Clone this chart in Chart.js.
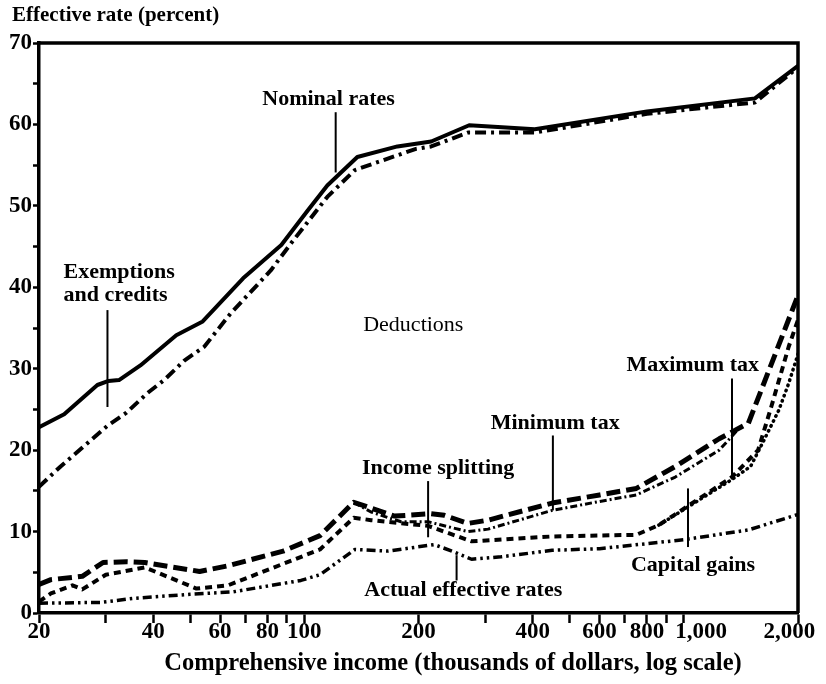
<!DOCTYPE html>
<html><head><meta charset="utf-8">
<script src="https://cdn.jsdelivr.net/npm/chart.js@4/dist/chart.umd.min.js"></script>
<style>html,body{margin:0;padding:0;background:#fff}#wrap{width:826px;height:684px}</style>
</head><body><div id="wrap"><canvas id="c" width="826" height="684"></canvas></div>
<script>
// ---- data (income in thousands of dollars, rate in percent) ----
const nominalIncome = [20, 23.3, 28.5, 30.5, 32.5, 37, 46, 54, 69, 87, 102, 115, 138, 176, 216, 272, 405, 800, 1540, 2000];
const nominalRate   = [22.8, 24.4, 28.0, 28.5, 28.6, 30.4, 34.1, 35.8, 41.1, 45.2, 49.4, 52.5, 56.0, 57.3, 57.9, 59.9, 59.4, 61.6, 63.2, 67.2];

const exemptIncome = [20, 22.8, 30.3, 34, 38.6, 42.7, 48.3, 54.5, 64, 81.7, 92.3, 115, 136, 197, 216, 270, 405, 800, 1540, 2000];
const exemptRate   = [15.5, 18.0, 23.0, 24.6, 27.0, 28.6, 31.0, 32.7, 36.8, 42.1, 45.4, 51.1, 54.4, 57.0, 57.3, 59.0, 59.0, 61.3, 62.7, 67.0];

const deductIncome = [20, 21.5, 26, 29.5, 34, 38, 53, 63, 88, 110, 135, 173, 216, 234, 270, 305, 450, 600, 750, 950, 1240, 1480, 2000];
const deductRate   = [3.5, 4.1, 4.5, 6.2, 6.3, 6.2, 5.1, 5.8, 7.6, 9.5, 13.6, 11.9, 12.2, 12.0, 11.0, 11.4, 13.5, 14.5, 15.3, 18.0, 21.4, 23.3, 39.0];

const splitIncome = [135, 150, 180, 212, 270, 305, 450, 600, 750, 950, 1240, 1400];
const splitRate   = [13.6, 12.4, 11.2, 11.2, 10.0, 10.3, 12.6, 13.7, 14.5, 16.7, 20.0, 22.7];

const minTaxIncome = [20, 21.5, 24.5, 26, 30, 38, 52, 63, 110, 135, 150, 212, 276, 450, 750, 860, 1000, 1340, 1570, 1700, 1890, 2000];
const minTaxRate   = [1.4, 2.4, 3.4, 2.9, 4.7, 5.6, 3.0, 3.4, 7.8, 11.7, 11.4, 10.7, 8.8, 9.4, 9.6, 10.8, 12.8, 16.7, 20.0, 25.3, 32.7, 36.0];

const maxTaxIncome = [860, 1000, 1340, 1500, 1610, 1780, 1890, 2000];
const maxTaxRate   = [10.8, 12.7, 16.4, 18.0, 20.8, 24.9, 28.2, 31.8];

const actualIncome = [20, 29, 35.6, 50, 65, 98, 110, 136, 166, 220, 245, 276, 330, 450, 600, 1000, 1480, 2000];
const actualRate   = [1.2, 1.3, 1.8, 2.3, 2.6, 4.0, 4.7, 7.8, 7.6, 8.4, 7.6, 6.6, 6.9, 7.7, 7.9, 9.0, 10.2, 12.1];

// ---- axis ticks ----
const xTickValues = [20, 30, 40, 50, 60, 70, 80, 90, 100, 200, 300, 400, 500, 600, 700, 800, 900, 1000, 2000];
const xTickLabels = {20: '20', 40: '40', 60: '60', 80: '80', 100: '100', 200: '200', 400: '400', 600: '600', 800: '800',
                     1000: '\u2007\u2007\u20071,000', 2000: '2,000\u2007 '};
const yLabelStep = 10;

// ---- annotations (data coordinates) ----
const noteTexts  = ['Nominal rates', 'Exemptions', 'and credits', 'Deductions', 'Maximum tax', 'Minimum tax', 'Income splitting', 'Capital gains', 'Actual effective rates'];
const noteWeight = ['bold', 'bold', 'bold', 'normal', 'bold', 'bold', 'bold', 'bold', 'bold'];
const noteIncome = [77.5, 23.2, 23.2, 143, 706, 310, 142, 726, 144];
const noteRate   = [63.1, 41.8, 39.0, 35.3, 30.4, 23.3, 17.8, 5.9, 2.8];
const pointerIncome = [121, 30.3, 1340, 452, 212, 1026, 252];
const pointerTop    = [61.5, 37.2, 28.8, 21.8, 16.2, 15.3, 7.1];
const pointerBottom = [54.1, 25.3, 16.9, 12.6, 9.3, 8.1, 4.0];

const yTitle = 'Effective rate (percent)';
const xTitle = 'Comprehensive income (thousands of dollars, log scale)';

const SERIF = '"Liberation Serif", "DejaVu Serif", serif';
const pts = (xs, ys) => xs.map((x, i) => ({x: x, y: ys[i]}));

function ds(label, xs, ys, width, dash, cap) {
  return {label, data: pts(xs, ys), borderColor: '#000', backgroundColor: '#000',
    borderWidth: width, borderDash: dash, pointRadius: 0, tension: 0, fill: false,
    borderCapStyle: cap || 'butt', borderJoinStyle: 'round'};
}

const extras = {
  id: 'extras',
  afterDraw(chart) {
    const ctx = chart.ctx, a = chart.chartArea, xs = chart.scales.x, ys = chart.scales.y;
    ctx.save();
    ctx.strokeStyle = '#000';
    ctx.lineWidth = 3.5;
    ctx.beginPath();
    ctx.moveTo(a.left, a.top); ctx.lineTo(a.right, a.top); ctx.lineTo(a.right, a.bottom);
    ctx.stroke();
    // pointers
    ctx.lineWidth = 2;
    for (let i = 0; i < pointerIncome.length; i++) {
      const px = xs.getPixelForValue(pointerIncome[i]);
      ctx.beginPath();
      ctx.moveTo(px, ys.getPixelForValue(pointerTop[i]));
      ctx.lineTo(px, ys.getPixelForValue(pointerBottom[i]));
      ctx.stroke();
    }
    ctx.fillStyle = '#000';
    ctx.textBaseline = 'middle';
    ctx.textAlign = 'left';
    for (let i = 0; i < noteTexts.length; i++) {
      ctx.font = noteWeight[i] + ' 22px ' + SERIF;
      ctx.fillText(noteTexts[i], xs.getPixelForValue(noteIncome[i]), ys.getPixelForValue(noteRate[i]));
    }
    ctx.font = 'bold 21px ' + SERIF;
    ctx.fillText(yTitle, 12, 16);
    ctx.textAlign = 'center';
    ctx.font = 'bold 24.5px ' + SERIF;
    ctx.fillText(xTitle, 453, 664);
    ctx.restore();
  }
};

new Chart(document.getElementById('c'), {
  type: 'line',
  data: {
    datasets: [
      ds('Nominal rates', nominalIncome, nominalRate, 4, []),
      ds('Exemptions and credits', exemptIncome, exemptRate, 4, [11, 5, 3, 5]),
      ds('Deductions', deductIncome, deductRate, 5, [14, 6]),
      ds('Income splitting', splitIncome, splitRate, 3, [7, 3, 2, 3]),
      ds('Minimum tax', minTaxIncome, minTaxRate, 4, [7, 5]),
      ds('Maximum tax', maxTaxIncome, maxTaxRate, 3.5, [0.5, 5], 'round'),
      ds('Actual effective rates', actualIncome, actualRate, 3.5, [9, 4, 2.5, 4, 2.5, 4])
    ]
  },
  options: {
    responsive: false,
    animation: false,
    layout: {padding: {top: 43, right: 28, bottom: 0, left: 0}},
    plugins: {legend: {display: false}, tooltip: {enabled: false}},
    scales: {
      x: {
        type: 'logarithmic', min: 20, max: 2000,
        afterBuildTicks: s => { s.ticks = xTickValues.map(v => ({value: v})); },
        afterFit: s => { s.height = 71; s.paddingLeft = 0; s.paddingRight = 0; },
        ticks: {
          autoSkip: false, maxRotation: 0, minRotation: 0, padding: -5,
          color: '#000', font: {family: SERIF, weight: 'bold', size: 23},
          callback: v => xTickLabels[v] || ''
        },
        grid: {drawOnChartArea: false, drawTicks: true, tickLength: 10, tickWidth: 2.5, tickColor: '#000'},
        border: {display: true, color: '#000', width: 3.5}
      },
      y: {
        min: 0, max: 70,
        afterFit: s => { s.width = 39; s.paddingTop = 0; s.paddingBottom = 0; },
        ticks: {
          stepSize: 5, padding: 1, color: '#000',
          font: {family: SERIF, weight: 'bold', size: 23},
          callback: v => (v % yLabelStep === 0 ? String(v) : '')
        },
        grid: {drawOnChartArea: false, drawTicks: true, tickLength: 6, tickWidth: 2.5, tickColor: '#000'},
        border: {display: true, color: '#000', width: 3.5}
      }
    }
  },
  plugins: [extras]
});
</script>
</body></html>
